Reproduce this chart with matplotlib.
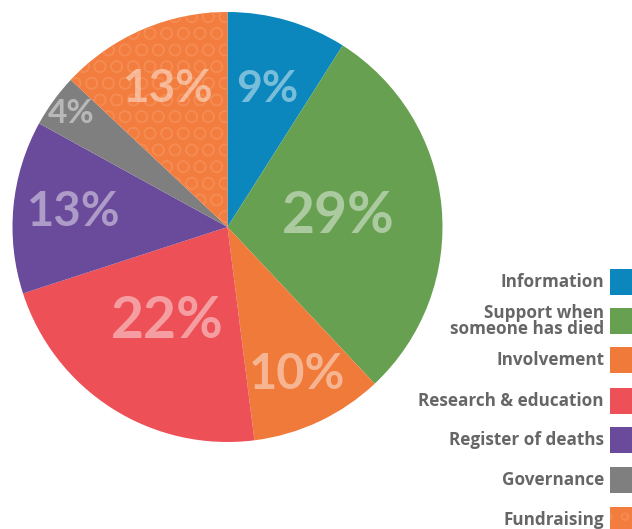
import matplotlib
matplotlib.use("Agg")
import matplotlib.pyplot as plt
from matplotlib.patches import Rectangle
import numpy as np

categories = ["Information", "Support when\nsomeone has died", "Involvement",
              "Research & education", "Register of deaths", "Governance", "Fundraising"]
values = [9, 29, 10, 22, 13, 4, 13]
colors = ["#0b87bd", "#68a051", "#f07a3a", "#ee5057", "#6a4a9b", "#7f7f80", "#f27d3e"]

W, H = 632, 529
fig = plt.figure(figsize=(W / 100, H / 100), dpi=100)
fig.patch.set_facecolor("white")

# pie axes: circle spans x 12..443, y 12..442 (pixels from top)
ax = fig.add_axes([12 / W, (H - 442) / H, 431 / W, 430 / H])
wedges, texts = ax.pie(values, colors=colors, startangle=90, counterclock=False,
                       radius=1.0, wedgeprops=dict(linewidth=0))
ax.set_xlim(-1, 1)
ax.set_ylim(-1, 1)
ax.set_aspect("equal")
ax.axis("off")

# subtle pattern on Fundraising wedge
wf = wedges[-1]
wf.set_hatch("O")
wf.set_edgecolor("#f48b52")
wf.set_linewidth(0)

# percentage labels
label_r = [0.67, 0.52, 0.76, 0.52, 0.72, 0.90, 0.70]
label_fs = [32, 41, 35, 41, 34, 24, 33]
for w, v, r, fs in zip(wedges, values, label_r, label_fs):
    ang = np.deg2rad((w.theta1 + w.theta2) / 2)
    ax.text(r * np.cos(ang), r * np.sin(ang), f"{v}%", ha="center", va="center",
            fontsize=fs, fontweight="bold",
            family=["Lato", "DejaVu Sans"], color="white", alpha=0.45)

# legend
row_y = [282, 321, 360, 401, 440, 480, 520]
for cat, col, y in zip(categories, colors, row_y):
    fig.text(604 / W, 1 - y / H, cat, ha="right", va="center", fontsize=12.3,
             fontweight="bold", color="#666666", family=["Open Sans", "DejaVu Sans"],
             linespacing=0.8)
    r = Rectangle((610 / W, 1 - (y + 13) / H), 30 / W, 26 / H, transform=fig.transFigure,
                  facecolor=col, edgecolor="none")
    if cat == "Fundraising":
        r.set_hatch("o")
        r.set_edgecolor("#f48b52")
        r.set_linewidth(0)
    fig.add_artist(r)

fig.savefig("out.png", dpi=100)
